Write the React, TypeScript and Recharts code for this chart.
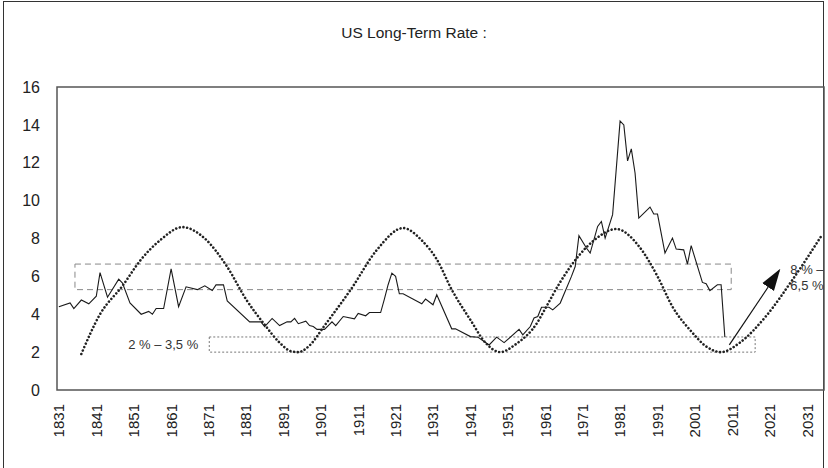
import React from 'react';
import { LineChart, Line, XAxis, YAxis, ReferenceArea, ReferenceLine, ReferenceDot } from 'recharts';

// US long-term rate (year, %)
const RATE_YEARS = [
  1831, 1834, 1835, 1837, 1839, 1841, 1842, 1844, 1847, 1848, 1850, 1853, 1855, 1856, 1857, 1859,
  1861, 1863, 1865, 1868, 1870, 1872, 1873, 1875, 1876, 1882, 1885, 1886, 1888, 1890, 1892, 1893,
  1894, 1895, 1897, 1898, 1899, 1900, 1902, 1904, 1905, 1907, 1910, 1911, 1913, 1914, 1917, 1918,
  1919, 1920, 1921, 1922, 1923, 1928, 1929, 1931, 1932, 1936, 1937, 1941, 1943, 1944, 1946, 1948,
  1950, 1954, 1955, 1957, 1958, 1959, 1960, 1962, 1963, 1965, 1968, 1969, 1970, 1972, 1973, 1975,
  1976, 1977, 1979, 1981, 1982, 1983, 1984, 1985, 1986, 1989, 1990, 1991, 1993, 1995, 1996, 1998,
  1999, 2000, 2003, 2004, 2005, 2007, 2008, 2009,
];
const RATE_VALUES = [
  4.4, 4.6, 4.3, 4.75, 4.55, 4.95, 6.2, 4.9, 5.85, 5.65, 4.6, 4.0, 4.15, 4.0, 4.3, 4.3,
  6.4, 4.4, 5.45, 5.3, 5.5, 5.25, 5.55, 5.55, 4.7, 3.6, 3.6, 3.35, 3.78, 3.4, 3.6, 3.6,
  3.78, 3.5, 3.63, 3.4, 3.35, 3.2, 3.2, 3.6, 3.4, 3.88, 3.76, 4.04, 3.92, 4.09, 4.09, 4.8,
  5.56, 6.17, 6.0, 5.08, 5.08, 4.55, 4.8, 4.5, 5.03, 3.23, 3.23, 2.82, 2.79, 2.65, 2.38, 2.79,
  2.5, 3.2, 2.91, 3.35, 3.8, 3.88, 4.37, 4.37, 4.23, 4.59, 6.0, 6.52, 8.15, 7.5, 7.23, 8.64,
  8.9, 8.02, 9.26, 14.2, 14.0, 12.1, 12.73, 11.46, 9.08, 9.66, 9.29, 9.29, 7.23, 8.02, 7.44, 7.4,
  6.65, 7.62, 5.68, 5.61, 5.25, 5.56, 5.56, 2.79,
];

// the dotted long cycle
const CYCLE_YEARS = [
  1837, 1842, 1848, 1853, 1858, 1864, 1870, 1876, 1881, 1886, 1890, 1893, 1895, 1898, 1902, 1905,
  1909, 1916, 1923, 1928, 1932, 1936, 1941, 1945, 1949, 1953, 1959, 1961, 1965, 1970, 1974, 1980,
  1986, 1991, 1995, 2000, 2004, 2008, 2013, 2020, 2027, 2035,
];
const CYCLE_VALUES = [
  1.9, 4.0, 5.5, 6.9, 7.9, 8.6, 8.0, 6.5, 4.8, 3.45, 2.5, 2.05, 2.0, 2.35, 3.4, 4.2,
  5.3, 7.4, 8.55, 7.9, 6.9, 5.3, 3.7, 2.5, 2.0, 2.4, 3.6, 4.3, 5.7, 7.1, 7.9, 8.5,
  7.6, 6.0, 4.4, 3.1, 2.3, 2.0, 2.5, 3.9, 5.8, 8.2,
];

const X_TICKS = [1831, 1841, 1851, 1861, 1871, 1881, 1891, 1901, 1911, 1921, 1931, 1941, 1951, 1961, 1971, 1981, 1991, 2001, 2011, 2021, 2031];
const Y_TICKS = [0, 2, 4, 6, 8, 10, 12, 14, 16];

const rateData = RATE_YEARS.map((year, i) => ({ year, rate: RATE_VALUES[i] }));
const cycleData = CYCLE_YEARS.map((year, i) => ({ year, cycle: CYCLE_VALUES[i] }));

const FONT = '"Liberation Sans", Arial, Helvetica, sans-serif';

const YearTick = (props: any) => {
  const { x, y, payload } = props;
  return (
    <text x={x} y={y} transform={`rotate(-90, ${x}, ${y})`} textAnchor="end" dy="0.36em"
      fontSize={15} fill="#222" fontFamily={FONT}>
      {payload.value}
    </text>
  );
};

const RangeNote = (props: any) => {
  const { x, y } = props.viewBox;
  return (
    <text fontSize={13} fill="#333" fontFamily={FONT}>
      <tspan x={x} y={y}>8 % –</tspan>
      <tspan x={x} y={y + 16}>6,5 %</tspan>
    </text>
  );
};

export default function App() {
  return (
    <div style={{ position: 'absolute', left: 0, top: 0, width: 828, height: 468, background: '#fff', fontFamily: FONT }}>
      <div style={{ position: 'absolute', left: 3, top: 1, width: 819, height: 480, border: '1px solid #333' }} />
      <div style={{ position: 'absolute', left: 0, top: 24, width: 828, textAlign: 'center', fontSize: 15.5, color: '#222' }}>
        US Long-Term Rate :
      </div>
      <div style={{ position: 'absolute', left: 0, top: 0 }}>
        <LineChart width={828} height={468} margin={{ top: 87, right: 4, bottom: 0, left: 0 }}>
          <defs>
            <marker id="arrowHead" viewBox="0 0 10 10" refX="9" refY="5" markerUnits="userSpaceOnUse"
              markerWidth="22" markerHeight="22" orient="auto">
              <path d="M0,1.8 L10,5 L0,8.2 z" fill="#111" />
            </marker>
          </defs>
          <XAxis dataKey="year" type="number" domain={[1830.5, 2035.5]} ticks={X_TICKS}
            allowDuplicatedCategory={false} axisLine={false} tickLine={false} tickSize={0} tickMargin={14}
            height={78} tick={<YearTick />} interval={0} />
          <YAxis type="number" domain={[0, 16]} ticks={Y_TICKS} axisLine={false} tickLine={false}
            tickSize={0} tickMargin={17} width={57}
            tick={{ fontSize: 16, fill: '#222', fontFamily: FONT }} />
          <ReferenceArea x1={1830.5} x2={2035.5} y1={0} y2={16} fill="none" stroke="#555" strokeWidth={1.5} />
          <ReferenceArea x1={1835.3} x2={2010.7} y1={5.3} y2={6.65} fill="none" stroke="#888" strokeDasharray="6 4" />
          <ReferenceArea x1={1871.2} x2={2017.1} y1={2.0} y2={2.8} fill="none" stroke="#777" strokeDasharray="2 2"
            label={{ value: '2 % – 3,5 %', position: 'left', offset: 11, fill: '#333', fontSize: 13, fontFamily: FONT }} />
          <ReferenceDot x={2026.5} y={6.14} r={0} fill="none" stroke="none" label={<RangeNote />} />
          <Line data={rateData} dataKey="rate" type="linear" stroke="#1a1a1a" strokeWidth={1.1}
            dot={false} activeDot={false} isAnimationActive={false} />
          <Line data={cycleData} dataKey="cycle" type="monotone" stroke="#222" strokeWidth={2.6}
            strokeDasharray="0.01 3.7" strokeLinecap="round" dot={false} activeDot={false} isAnimationActive={false} />
          <ReferenceLine segment={[{ x: 2010.2, y: 2.38 }, { x: 2023.5, y: 6.3 }]} stroke="#111" strokeWidth={1.2}
            markerEnd="url(#arrowHead)" ifOverflow="visible" />
        </LineChart>
      </div>
    </div>
  );
}
